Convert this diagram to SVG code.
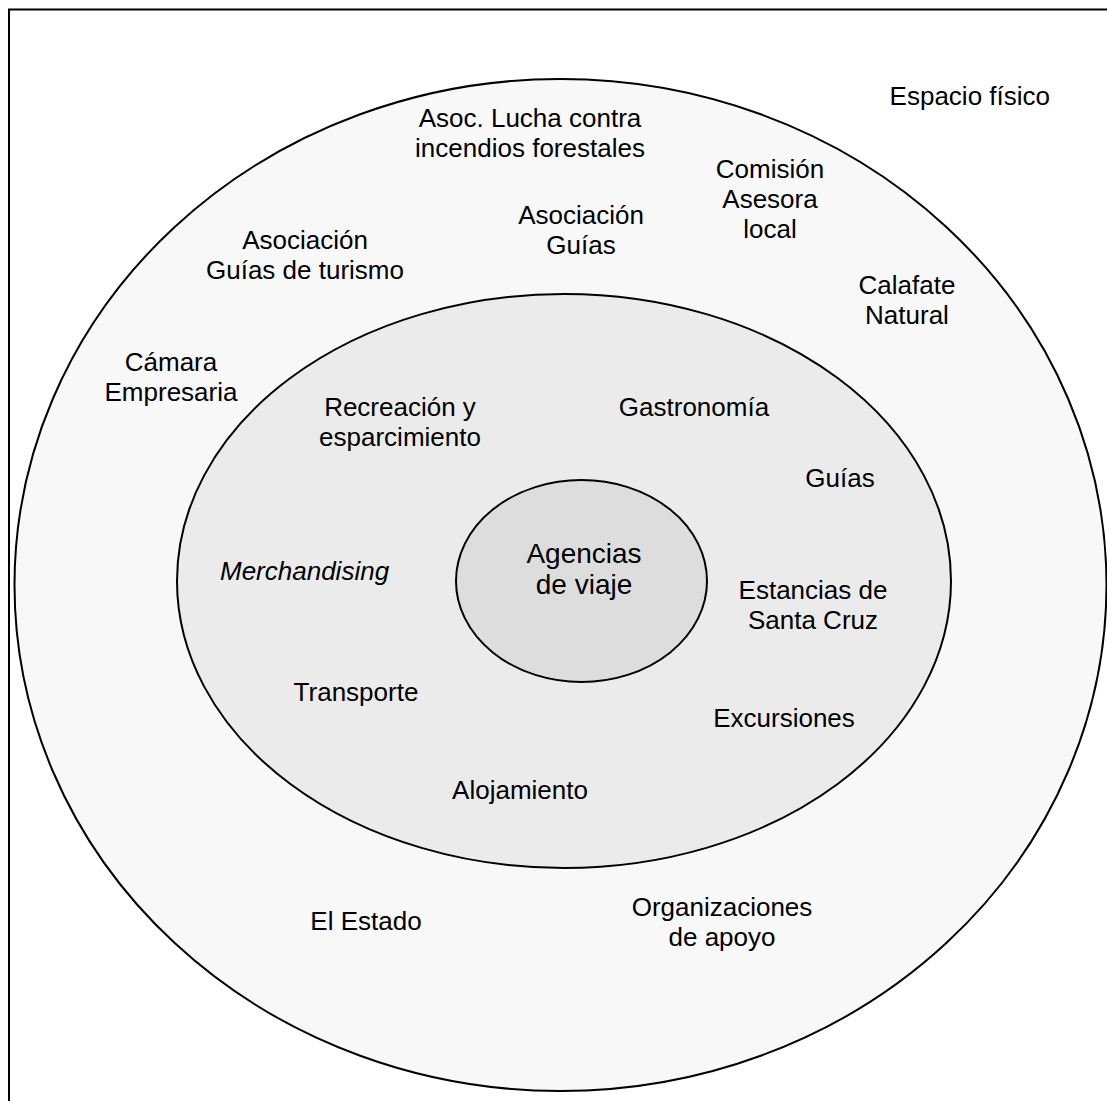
<svg xmlns="http://www.w3.org/2000/svg" width="1107" height="1101" viewBox="0 0 1107 1101">
<style>
text{font-family:"Liberation Sans",Arial,sans-serif;font-size:26px;fill:#000;text-anchor:middle}
.big{font-size:28px}
.it{font-style:italic;text-anchor:start}
.ring{stroke:#000;stroke-width:2}
</style>
<rect x="0" y="0" width="1107" height="1101" fill="#fff"/>
<rect x="9" y="9.5" width="1110" height="1110" fill="none" stroke="#000" stroke-width="2"/>
<g id="espacio-fisico">
<ellipse class="ring" cx="560.5" cy="585" rx="546" ry="506" fill="#f8f8f8"/>
<text x="1050" y="105" style="text-anchor:end">Espacio físico</text>
</g>
<g id="entorno">
<text x="530" y="127">Asoc. Lucha contra</text>
<text x="530" y="157">incendios forestales</text>
<text x="770" y="178">Comisión</text>
<text x="770" y="208">Asesora</text>
<text x="770" y="238">local</text>
<text x="581" y="224">Asociación</text>
<text x="581" y="254">Guías</text>
<text x="305" y="249">Asociación</text>
<text x="305" y="279">Guías de turismo</text>
<text x="907" y="294">Calafate</text>
<text x="907" y="324">Natural</text>
<text x="171" y="371">Cámara</text>
<text x="171" y="401">Empresaria</text>
<text x="366" y="930">El Estado</text>
<text x="722" y="916">Organizaciones</text>
<text x="722" y="946">de apoyo</text>
</g>
<g id="servicios">
<ellipse class="ring" cx="564" cy="581" rx="387" ry="287" fill="#ebebeb"/>
<text x="400" y="416">Recreación y</text>
<text x="400" y="446">esparcimiento</text>
<text x="694" y="416">Gastronomía</text>
<text x="840" y="487">Guías</text>
<text class="it" x="220" y="580">Merchandising</text>
<text x="813" y="599">Estancias de</text>
<text x="813" y="629">Santa Cruz</text>
<text x="356" y="701">Transporte</text>
<text x="784" y="727">Excursiones</text>
<text x="520" y="799">Alojamiento</text>
</g>
<g id="agencias">
<ellipse class="ring" cx="581.5" cy="581" rx="125.5" ry="101" fill="#dddddd"/>
<text class="big" x="584" y="563">Agencias</text>
<text class="big" x="584" y="594">de viaje</text>
</g>
<g id="connectors"></g>
</svg>
